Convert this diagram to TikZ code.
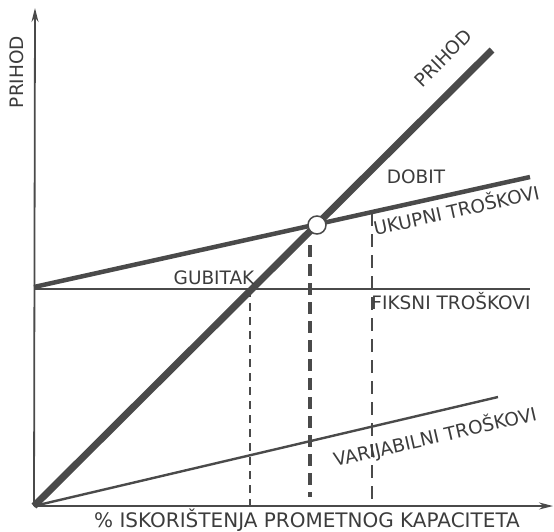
\documentclass[tikz,border=0pt]{standalone}
\usepackage{fontspec}
\setmainfont{DejaVu Sans}
\usetikzlibrary{arrows.meta}
\definecolor{ink}{HTML}{4A4A4A}
\definecolor{txt}{HTML}{3C3C3C}
\begin{document}
\begin{tikzpicture}[x=1pt,y=-1pt,
  axis/.style={draw=ink,line width=1.8pt,-{Stealth[length=14pt,width=7pt]}},
  revline/.style={draw=ink,line width=7pt},
  totline/.style={draw=ink,line width=4.5pt},
  thinline/.style={draw=ink,line width=2pt},
  dashthin/.style={draw=ink,line width=1.5pt,dash pattern=on 8pt off 6pt},
  dashthick/.style={draw=ink,line width=4pt,dash pattern=on 12pt off 7pt},
  dashmed/.style={draw=ink,line width=2pt,dash pattern=on 13pt off 8pt},
  lbl/.style={text=txt,font=\fontsize{18.5}{20}\selectfont,inner sep=0pt},
  bep/.style={circle,draw=ink,line width=1.5pt,fill=white,minimum size=18pt,inner sep=0pt}
]
\useasboundingbox (0,0) rectangle (554,531);
\coordinate (O) at (34,506);
\coordinate (ytop) at (35,8);
\coordinate (xend) at (553,506);
\coordinate (fixL) at (34,289);
\coordinate (fixR) at (530,289);
\coordinate (totL) at (34,287);
\coordinate (totR) at (530,177);
\coordinate (revR) at (492,50);
\coordinate (varR) at (498,397);
\coordinate (d1t) at (250,289);
\coordinate (d1b) at (250,506);
\coordinate (d2t) at (310,245);
\coordinate (d2b) at (310,497);
\coordinate (d3t) at (372,213);
\coordinate (d3b) at (372,506);
% dashed verticals
\draw[dashthin] (d1t) -- (d1b);
\draw[dashthick] (d2t) -- (d2b);
\draw[dashmed] (d3t) -- (d3b);
% cost lines
\draw[thinline] (fixL) -- (fixR);
\draw[thinline,line width=2.4pt] (O) -- (varR);
\draw[totline] (totL) -- (totR);
\draw[revline] (O) -- (revR);
% axes
\draw[axis] (O) -- (ytop);
\draw[axis] (O) -- (xend);
% break-even point
\node[bep] (be) at (317,225) {};
% labels
\node[lbl,rotate=90] (ylab) at (17,72) {PRIHOD};
\node[lbl,rotate=45] (revlab) at (443,58) {PRIHOD};
\node[lbl] (dobit) at (416,177) {DOBIT};
\node[lbl,rotate=12.5] (ukupni) at (456,209) {UKUPNI TROŠKOVI};
\node[lbl] (gubitak) at (214,278) {GUBITAK};
\node[lbl] (fiksni) at (451,301) {FIKSNI TROŠKOVI};
\node[lbl,rotate=13] (varlab) at (435,437) {VARIJABILNI TROŠKOVI};
\node[lbl,font=\fontsize{20}{22}\selectfont,anchor=base] (xlab) at (307,527) {\% ISKORIŠTENJA PROMETNOG KAPACITETA};
\end{tikzpicture}
\end{document}
